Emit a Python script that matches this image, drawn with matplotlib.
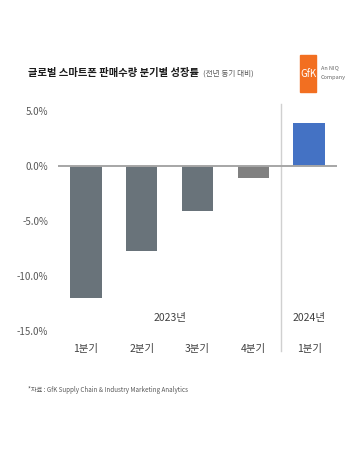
import matplotlib
matplotlib.use("Agg")
import matplotlib.pyplot as plt
from matplotlib.patches import Rectangle

plt.rcParams['font.family'] = ['Noto Sans CJK KR', 'DejaVu Sans']

quarters = ["1분기", "2분기", "3분기", "4분기", "1분기"]
growth = [-12.0, -7.7, -4.1, -1.1, 3.9]
bar_colors = ["#69737a", "#69737a", "#69737a", "#808080", "#4472c4"]
years = ["2023년", "2024년"]
year_pos = [1.5, 4.0]
yticks = [5, 0, -5, -10, -15]
ytick_labels = ["5.0%", "0.0%", "-5.0%", "-10.0%", "-15.0%"]

fig = plt.figure(figsize=(3.59, 4.54), dpi=100)
ax = fig.add_axes([58/359, 123/454, 279/359, 220/454])

x = list(range(len(growth)))
ax.bar(x, growth, width=0.56, color=bar_colors, zorder=2)
ax.axhline(0, color="#a6a6a6", lw=1.4, zorder=3)
ax.set_xlim(-0.5, 4.5)
ax.set_ylim(-15, 5)
for s in ax.spines.values():
    s.set_visible(False)
ax.set_xticks([])
ax.set_yticks(yticks)
ax.set_yticklabels(ytick_labels, fontsize=7, color="#595959")
ax.tick_params(axis='y', length=0, pad=7)

# separator line
ax.plot([3.5, 3.5], [5.6, -16.8], color="#d0d0d0", lw=1.0, clip_on=False, zorder=1)

for xi, q in zip(x, quarters):
    ax.text(xi, -16.6, q, ha="center", va="center", fontsize=7.5, color="#404040", clip_on=False)
for yp, yl in zip(year_pos, years):
    ax.text(yp, -13.8, yl, ha="center", va="center", fontsize=7.5, color="#404040")

# title
fig.text(28/359, 1 - 73/454, "글로벌 스마트폰 판매수량 분기별 성장률", fontsize=7.4,
         fontweight="bold", color="#1a1a1a", ha="left", va="center")
fig.text(203/359, 1 - 74/454, "(전년 동기 대비)", fontsize=5.5, color="#595959",
         ha="left", va="center")

# logo
fig.patches.append(Rectangle((300/359, 1 - 92/454), 16/359, 37/454,
                             transform=fig.transFigure, color="#f26f21"))
fig.text(308/359, 1 - 74/454, "GfK", fontsize=7, color="white", ha="center", va="center")
fig.text(321/359, 1 - 68/454, "An NIQ", fontsize=4, color="#666666", ha="left", va="center")
fig.text(321/359, 1 - 78/454, "Company", fontsize=4, color="#666666", ha="left", va="center")

# footnote
fig.text(28/359, 1 - 390/454, "*자료 : GfK Supply Chain & Industry Marketing Analytics",
         fontsize=4.5, color="#595959", ha="left", va="center")

fig.savefig("out.png", dpi=100)
